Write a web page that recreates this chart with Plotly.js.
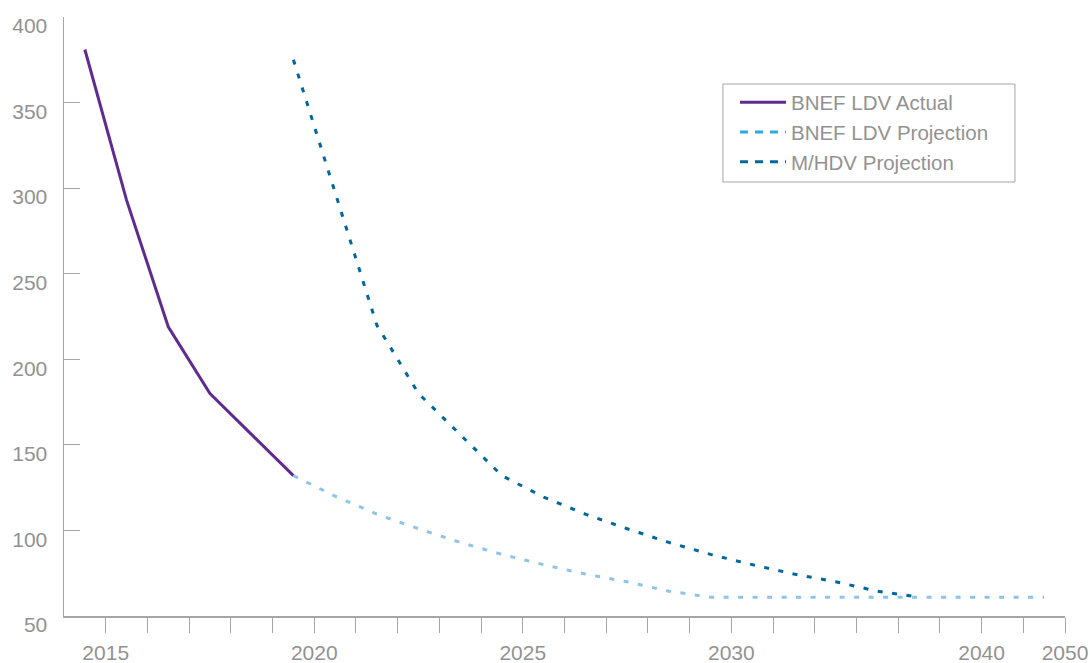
<!DOCTYPE html>
<html>
<head>
<meta charset="utf-8">
<script src="https://cdn.plot.ly/plotly-3.0.1.min.js"></script>
<style>
html,body{margin:0;padding:0;background:#fff;}
#chart{width:1090px;height:663px;}
</style>
</head>
<body>
<div id="chart"></div>
<script>
// Category index (one per year slot on the axis)
const slots = [0,1,2,3,4,5,6,7,8,9,10,11,12,13,14,15,16,17,18,19,20,21,22,23];
// Tick labels drawn at the boundaries after each slot
const tickText = ['2015','','','','','2020','','','','','2025','','','','','2030','','','','','','2040','','2050'];

const ldvActual = [381, 293, 219, 180, 156, 132, null, null, null, null, null, null, null, null, null, null, null, null, null, null, null, null, null, null];
const ldvProjection = [null, null, null, null, null, 132, 120, 109.5, 101, 93, 86, 80, 74.5, 70, 64.5, 61, 61, 61, 61, 61, 61, 61, 61, 61];
const mhdvProjection = [null, null, null, null, null, 375, 297, 220, 180, 156, 132, 119.5, 109.5, 101, 93, 86, 80, 74.5, 70, 64.5, 61, null, null, null];

const seriesNames = ['BNEF LDV Actual', 'BNEF LDV Projection', 'M/HDV Projection'];
const yTicks = [50, 100, 150, 200, 250, 300, 350, 400];

const purple = '#5f2b8e';
const ldvBlue = '#8ec4ea';
const ldvLegendBlue = '#2ea9df';
const mhdvBlue = '#00679b';

const tickPos = slots.map(s => s + 0.5);

const traces = [
  {x: slots, y: ldvActual, mode: 'lines', line: {color: purple, width: 3}, showlegend: false, hoverinfo: 'skip'},
  {x: slots, y: ldvProjection, mode: 'lines', line: {color: ldvBlue, width: 3, dash: '5px,9.5px'}, showlegend: false, hoverinfo: 'skip'},
  {x: slots, y: mhdvProjection, mode: 'lines', line: {color: mhdvBlue, width: 3, dash: '5px,9.5px'}, showlegend: false, hoverinfo: 'skip'},
  // legend entries
  {x: [null], y: [null], mode: 'lines', name: seriesNames[0], line: {color: purple, width: 3}},
  {x: [null], y: [null], mode: 'lines', name: seriesNames[1], line: {color: ldvLegendBlue, width: 3, dash: '8px,7px'}},
  {x: [null], y: [null], mode: 'lines', name: seriesNames[2], line: {color: mhdvBlue, width: 3, dash: '8px,7px'}}
];

const gray = '#929292';
const axisGray = '#a6a6a6';

const layout = {
  width: 1090,
  height: 663,
  margin: {l: 64, r: 25, t: 17, b: 47},
  paper_bgcolor: '#ffffff',
  plot_bgcolor: '#ffffff',
  font: {family: 'Liberation Sans, Arial, sans-serif', size: 21, color: gray},
  showlegend: true,
  xaxis: {
    range: [-0.5, 23.5],
    tickmode: 'array',
    tickvals: tickPos,
    ticktext: tickText,
    ticks: 'outside',
    ticklen: 15,
    tickwidth: 1,
    tickcolor: axisGray,
    showline: true,
    linecolor: axisGray,
    linewidth: 1.5,
    showgrid: false,
    zeroline: false,
    tickfont: {size: 21, color: gray},
    ticklabelstandoff: 2,
    fixedrange: true
  },
  yaxis: {
    range: [50, 400],
    tickmode: 'array',
    tickvals: yTicks,
    ticks: 'inside',
    ticklen: 16,
    tickwidth: 1,
    tickcolor: axisGray,
    showline: true,
    linecolor: axisGray,
    linewidth: 1.5,
    showgrid: false,
    zeroline: false,
    tickfont: {size: 21, color: gray},
    ticklabelshift: 9,
    ticklabelstandoff: 11,
    fixedrange: true
  },
  shapes: [
    {type: 'rect', xref: 'paper', yref: 'paper', x0: 0.6583, x1: 0.9500, y0: 0.7245, y1: 0.8881,
     line: {color: axisGray, width: 1}, fillcolor: 'rgba(0,0,0,0)', layer: 'below'}
  ],
  legend: {
    x: 0.6703, y: 0.808, xanchor: 'left', yanchor: 'middle',
    bgcolor: 'rgba(0,0,0,0)',
    borderwidth: 0,
    font: {size: 20.5, color: gray},
    itemwidth: 46,
    tracegroupgap: 0
  }
};

Plotly.newPlot('chart', traces, layout, {displayModeBar: false, staticPlot: true});
</script>
</body>
</html>
